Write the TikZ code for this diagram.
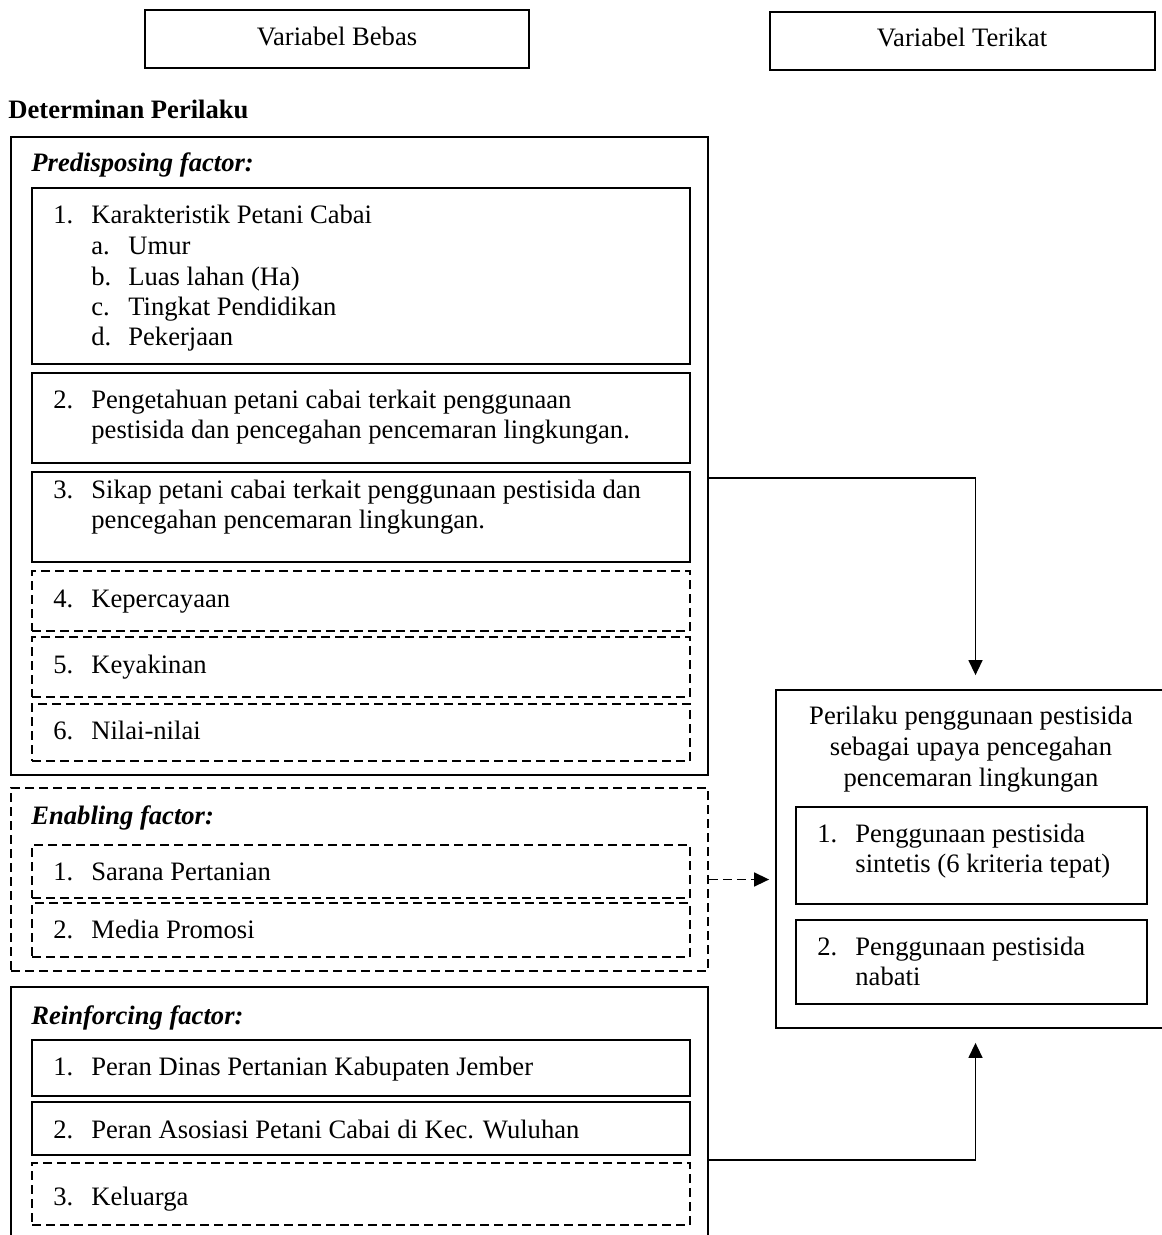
\documentclass[tikz,border=0pt]{standalone}
\usepackage{fontspec}
\setmainfont{Liberation Serif}
\usepackage{tikz}
\usetikzlibrary{arrows.meta, positioning, fit}
\tikzset{>={Triangle[length=7.5pt,width=7pt]}}
\newcommand{\lnum}[1]{\makebox[19pt][l]{#1}}
\newcommand{\lsub}[1]{\makebox[18.5pt][l]{#1}}
\tikzset{
  outbox/.style={draw, line width=0.9pt, inner sep=0pt},
  inbox/.style={draw, line width=1.1pt, inner sep=0pt},
  dashbox/.style={draw, line width=0.9pt, inner sep=0pt, dash pattern=on 4.5pt off 2.5pt},
  txt/.style={anchor=base west, inner sep=0pt, align=left},
  ctxt/.style={anchor=base, inner sep=0pt, align=center},
  link/.style={->, line width=0.75pt}
}

\begin{document}
\begin{tikzpicture}[x=0.5pt, y=-0.5pt, font=\fontsize{13.3pt}{15pt}\selectfont]
  \useasboundingbox (0,0) rectangle (1161,1235);

  % header
  \node[outbox, fit={(145,10) (529,68)}] (vb) {};
  \node[ctxt] (vbt) at (337,46) {Variabel Bebas};
  \node[outbox, fit={(770,12) (1155,70)}] (vt) {};
  \node[ctxt] (vtt) at (962,47) {Variabel Terikat};
  \node[txt] (det) at (8,119) {\textbf{Determinan Perilaku}};

  % predisposing (multi-line texts sit on their last line)
  \node[outbox, fit={(11,137) (708,775)}] (pre) {};
  \node[txt] (pret) at (31,172) {\textbf{\textit{Predisposing factor:}}};
  \node[inbox, fit={(32,188) (690,364)}] (pre1) {};
  \node[txt] (pre1t) at (53,224) {\lnum{1.}Karakteristik Petani Cabai};
  \node[txt] (pre1s) at (91,345) {\lsub{a.}Umur\\ \lsub{b.}Luas lahan (Ha)\\ \lsub{c.}Tingkat Pendidikan\\ \lsub{d.}Pekerjaan};
  \node[inbox, fit={(32,373) (690,463)}] (pre2) {};
  \node[txt] (pre2t) at (53,438) {\lnum{2.}Pengetahuan petani cabai terkait penggunaan\\ \hspace*{19pt}pestisida dan pencegahan pencemaran lingkungan.};
  \node[inbox, fit={(32,472) (690,562)}] (pre3) {};
  \node[txt] (pre3t) at (53,528) {\lnum{3.}Sikap petani cabai terkait penggunaan pestisida dan\\ \hspace*{19pt}pencegahan pencemaran lingkungan.};
  \node[dashbox, fit={(32,571) (690,631)}] (pre4) {};
  \node[txt] (pre4t) at (53,607) {\lnum{4.}Kepercayaan};
  \node[dashbox, fit={(32,637) (690,697)}] (pre5) {};
  \node[txt] (pre5t) at (53,673) {\lnum{5.}Keyakinan};
  \node[dashbox, fit={(32,704) (690,761)}] (pre6) {};
  \node[txt] (pre6t) at (53,739) {\lnum{6.}Nilai-nilai};

  % enabling
  \node[dashbox, fit={(11,788) (708,971)}] (ena) {};
  \node[txt] (enat) at (31,824) {\textbf{\textit{Enabling factor:}}};
  \node[dashbox, fit={(32,845) (690,898)}] (ena1) {};
  \node[txt] (ena1t) at (53,880) {\lnum{1.}Sarana Pertanian};
  \node[dashbox, fit={(32,903) (690,957)}] (ena2) {};
  \node[txt] (ena2t) at (53,938) {\lnum{2.}Media Promosi};

  % reinforcing
  \node[outbox, fit={(11,987) (708,1260)}] (rei) {};
  \node[txt] (reit) at (31,1024) {\textbf{\textit{Reinforcing factor:}}};
  \node[inbox, fit={(32,1040) (690,1096)}] (rei1) {};
  \node[txt] (rei1t) at (53,1075) {\lnum{1.}Peran Dinas Pertanian Kabupaten Jember};
  \node[inbox, fit={(32,1102) (690,1155)}] (rei2) {};
  \node[txt] (rei2t) at (53,1138) {\lnum{2.}Peran Asosiasi Petani Cabai di Kec. Wuluhan};
  \node[dashbox, fit={(32,1163) (690,1225)}] (rei3) {};
  \node[txt] (rei3t) at (53,1205) {\lnum{3.}Keluarga};

  % dependent variable
  \node[outbox, fit={(776,690) (1175,1028)}] (dep) {};
  \node[ctxt, font=\fontsize{13.3pt}{15.5pt}\selectfont] (dept) at (971,786) {Perilaku penggunaan pestisida\\ sebagai upaya pencegahan\\ pencemaran lingkungan};
  \node[inbox, fit={(796,807) (1147,904)}] (dep1) {};
  \node[txt] (dep1t) at (817,872) {\lnum{1.}Penggunaan pestisida\\ \hspace*{19pt}sintetis (6 kriteria tepat)};
  \node[inbox, fit={(796,920) (1147,1004)}] (dep2) {};
  \node[txt] (dep2t) at (817,985) {\lnum{2.}Penggunaan pestisida\\ \hspace*{19pt}nabati};

  % arrows
  \draw[link, shorten >=7pt] (pre.east |- 0,478) -| (dep.north);
  \draw[link, dash pattern=on 4.5pt off 2.5pt, shorten >=3pt] (ena.east) -- (ena.east -| dep.west);
  \draw[link, shorten >=7pt] (rei.east |- 0,1160) -| (dep.south);
\end{tikzpicture}
\end{document}
